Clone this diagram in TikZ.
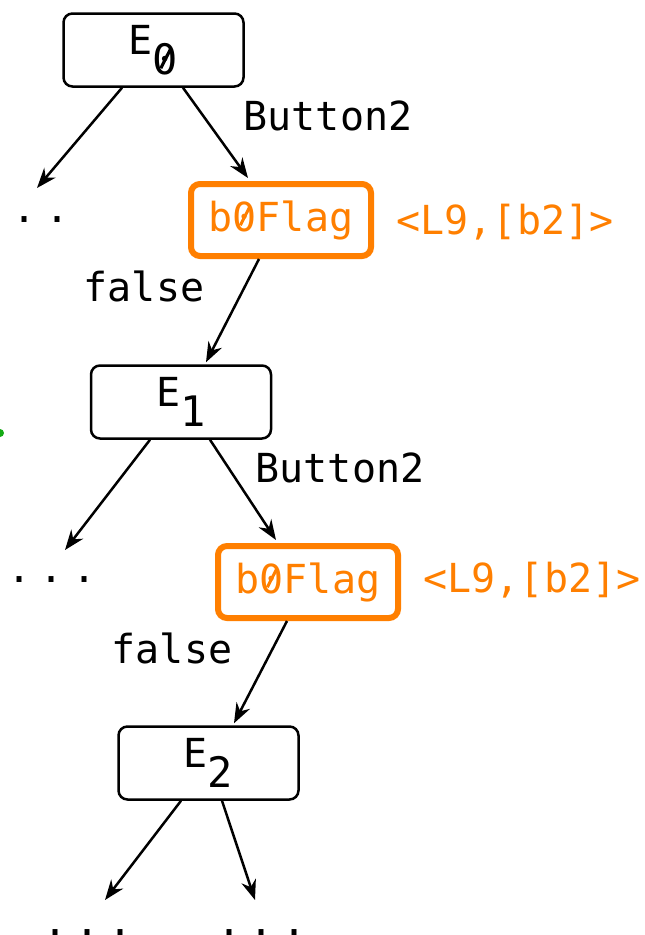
\documentclass[tikz,border=0pt]{standalone}
\usepackage{fontspec}
\setmainfont{DejaVu Sans Mono}
\usetikzlibrary{arrows.meta,calc}
\definecolor{flagorange}{RGB}{255,127,0}
\definecolor{markgreen}{RGB}{20,170,20}
% slashed zero: a digit 0 with a short diagonal stroke inside the oval
\newcommand{\szero}{\makebox[0pt][l]{0}\makebox[0.602em][c]{\raisebox{0.33em}{\rotatebox[origin=c]{63}{\rule{0.5em}{0.075em}}}}}
\newcommand{\evt}[1]{E\raisebox{-20pt}{\fontsize{42}{42}\selectfont #1}}
\begin{document}
\begin{tikzpicture}[x=1pt,y=-1pt,
  every node/.style={font=\fontsize{40}{40}\selectfont, inner sep=0pt},
  evbox/.style={draw=black, line width=2.5pt, rounded corners=9pt,
    minimum width=180pt, minimum height=73pt},
  flagbox/.style={draw=flagorange, text=flagorange, line width=6pt, rounded corners=9pt,
    minimum width=180pt, minimum height=72pt},
  flaglabel/.style={text=flagorange},
  edge/.style={draw=black, line width=2.5pt, -{Stealth[length=20pt,width=15pt]}},
  dots/.style={anchor=base}
]
\useasboundingbox (0,0) rectangle (645,935);

% event and flag nodes
\node[evbox] (E0) at (153.5,50) {\evt{\szero}};
\node[flagbox] (F0) at (281,220) {b\szero Flag};
\node[evbox] (E1) at (181,402) {\evt{1}};
\node[flagbox] (F1) at (308,582) {b\szero Flag};
\node[evbox] (E2) at (208.5,763) {\evt{2}};

% annotations
\node[flaglabel] (L0) at (505,222) {<L9,[b2]>};
\node[flaglabel] (L1) at (532,580) {<L9,[b2]>};
\node (B0) at (328,116) {Button2};
\node (B1) at (340,468) {Button2};
\node (N0) at (144,286) {false};
\node (N1) at (172,648) {false};

% elided branches
\node[dots] (D0) at (25,222) {.\hspace{8pt}.\hspace{8pt}.};
\node[dots] (D1) at (52,582) {.\hspace{8pt}.\hspace{8pt}.};
\node[dots] (D2) at (88,935) {.\hspace{8pt}.\hspace{8pt}.};
\node[dots] (D3) at (262,935) {.\hspace{8pt}.\hspace{8pt}.};
\coordinate (T0) at (37,188);
\coordinate (T1) at (65,550);
\coordinate (T2) at (105,900);
\coordinate (T3) at (255,900);

% connectors
\draw[edge] ([xshift=-31.5pt]E0.south) -- (T0);
\draw[edge] ([xshift=29.5pt]E0.south) -- ([xshift=-33pt,yshift=3pt]F0.north);
\draw[edge] ([xshift=-22pt]F0.south) -- ([xshift=25pt,yshift=2pt]E1.north);
\draw[edge] ([xshift=-31pt]E1.south) -- (T1);
\draw[edge] ([xshift=29pt]E1.south) -- ([xshift=-32pt,yshift=3pt]F1.north);
\draw[edge] ([xshift=-21pt]F1.south) -- ([xshift=25.5pt,yshift=2pt]E2.north);
\draw[edge] ([xshift=-27.5pt]E2.south) -- (T2);
\draw[edge] ([xshift=13.5pt]E2.south) -- (T3);

% marker at the left margin
\fill[markgreen] (0,433) circle (4pt);
\end{tikzpicture}
\end{document}
